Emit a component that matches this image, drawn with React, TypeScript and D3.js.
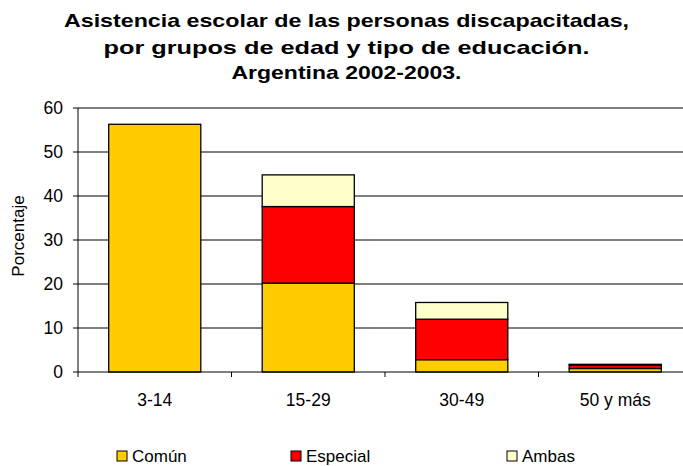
import React from "react";
import * as d3 from "d3";

const categories = ["3-14", "15-29", "30-49", "50 y más"];
const seriesNames = ["Común", "Especial", "Ambas"];
const comun = [56.3, 20.2, 2.8, 0.8];
const especial = [0, 17.4, 9.2, 0.8];
const ambas = [0, 7.2, 3.8, 0.15];
const yTicks = [0, 10, 20, 30, 40, 50, 60];
const colors = ["#FFCC00", "#FF0000", "#FFFFCC"];
const titleLines = [
  "Asistencia escolar de las personas discapacitadas,",
  "por grupos de edad y tipo de educación.",
  "Argentina 2002-2003.",
];

export default function App() {
  const W = 683, H = 466;
  const left = 78, right = 692, top = 108, bottom = 372;
  const x = d3.scaleBand().domain(categories).range([left, right]).paddingInner(0.4).paddingOuter(0.2);
  const xCat = d3.scaleBand().domain(categories).range([left, right]);
  const y = d3.scaleLinear().domain([0, 60]).range([bottom, top]);
  const table = categories.map((c, i) => ({ cat: c, s0: comun[i], s1: especial[i], s2: ambas[i] }));
  const stack = d3.stack<any>().keys(["s0", "s1", "s2"])(table);
  const font = "Liberation Sans, Arial, sans-serif";
  const legendX = [117, 291, 507];
  const titleLens = [565, 486, 230];
  const titleY = [27, 53.5, 79];

  return (
    <svg width={W} height={H} style={{ position: "absolute", left: 0, top: 0, background: "#fff" }} fontFamily={font}>
      {titleLines.map((t, i) => (
        <text key={i} x={346.5} y={titleY[i]} textAnchor="middle" fontSize={18.5} fontWeight="bold"
          textLength={titleLens[i]} lengthAdjust="spacingAndGlyphs">{t}</text>
      ))}
      {yTicks.map((t) => (
        <g key={t}>
          {t > 0 && <line x1={left} x2={W} y1={y(t)} y2={y(t)} stroke="#000" strokeWidth={1} />}
          <line x1={left - 5} x2={left} y1={y(t)} y2={y(t)} stroke="#000" />
          <text x={63} y={y(t) + 6} textAnchor="end" fontSize={17.5}>{t}</text>
        </g>
      ))}
      {stack.map((layer, li) =>
        layer.map((d, i) =>
          d[1] - d[0] > 0 ? (
            <rect key={`${li}-${i}`} x={x(categories[i])!} width={x.bandwidth()} y={y(d[1])} height={y(d[0]) - y(d[1])}
              fill={colors[li]} stroke="#000" strokeWidth={1.3} />
          ) : null
        )
      )}
      <line x1={left} x2={left} y1={top} y2={bottom} stroke="#000" />
      <line x1={left} x2={W} y1={bottom} y2={bottom} stroke="#000" />
      {categories.map((c, i) => (
        <g key={c}>
          <line x1={xCat(c)!} x2={xCat(c)!} y1={bottom} y2={bottom + 5} stroke="#000" />
          <text x={xCat(c)! + xCat.bandwidth() / 2} y={406} textAnchor="middle" fontSize={17.5}>{c}</text>
        </g>
      ))}
      <text transform={`translate(24,236) rotate(-90)`} textAnchor="middle" fontSize={17}>Porcentaje</text>
      {seriesNames.map((s, i) => (
        <g key={s}>
          <rect x={legendX[i]} y={451} width={10} height={10} fill={colors[i]} stroke="#000" strokeWidth={1} />
          <text x={legendX[i] + 15} y={461.5} fontSize={17}>{s}</text>
        </g>
      ))}
    </svg>
  );
}
